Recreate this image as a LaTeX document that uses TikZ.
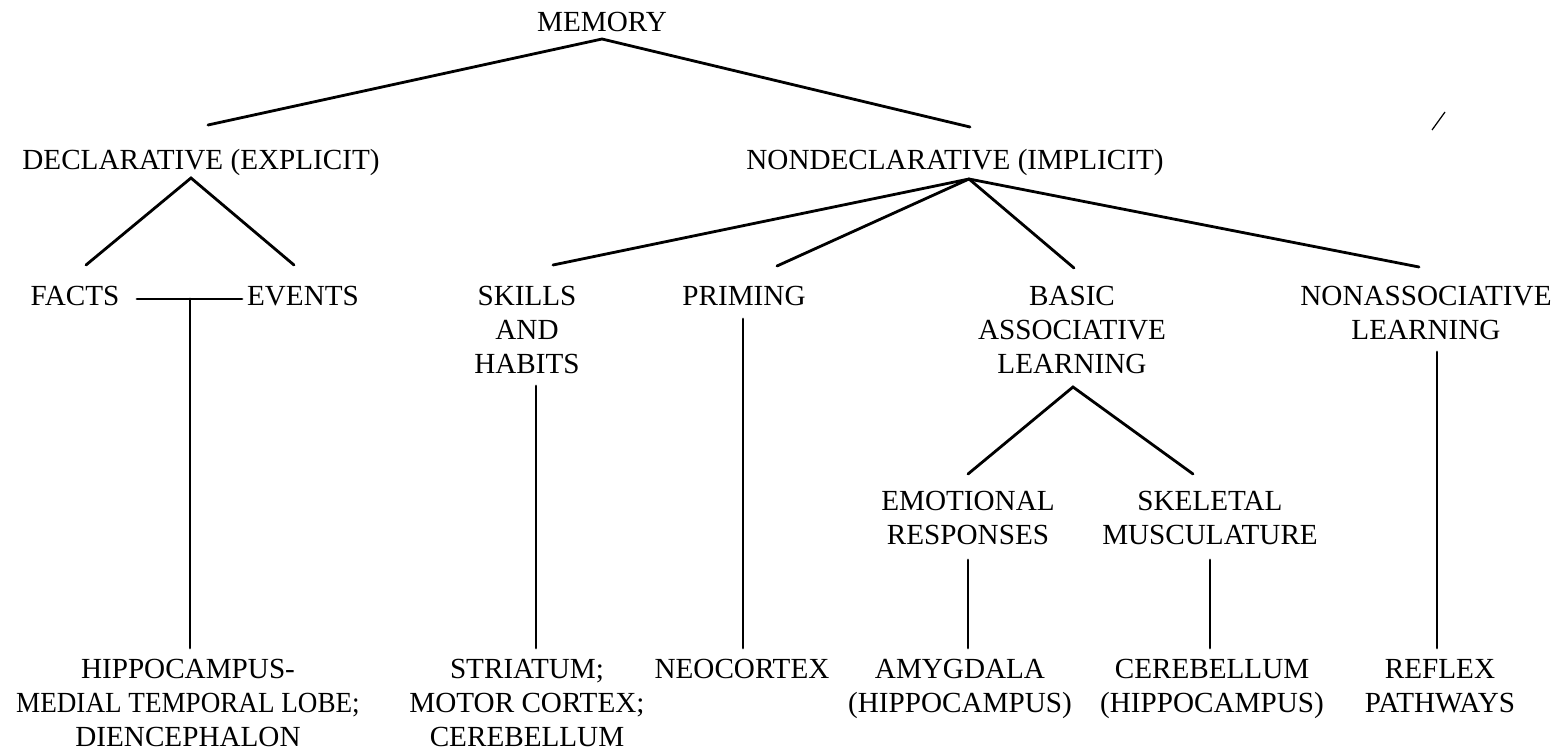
\documentclass[tikz,border=0pt]{standalone}
\usepackage{fontspec}
\setmainfont{Liberation Serif}
\begin{document}
\begin{tikzpicture}[x=0.02cm,y=-0.02cm,
  lbl/.style={inner sep=0pt, anchor=base, align=center, font=\fontsize{16.6}{19.3}\selectfont},
  conn/.style={line width=1.6pt, line cap=round}]
\useasboundingbox (0,0) rectangle (1562,750);
% labels (anchor = baseline of the last line)
\node[lbl] (memory) at (602,32) {MEMORY};
\node[lbl] (decl) at (201,170) {DECLARATIVE (EXPLICIT)};
\node[lbl] (nondecl) at (955,170) {NONDECLARATIVE (IMPLICIT)};
\node[lbl] (facts) at (75,305) {FACTS};
\node[lbl] (events) at (303,305) {EVENTS};
\node[lbl] (skills) at (527,373) {SKILLS\\AND\\HABITS};
\node[lbl] (priming) at (744,305) {PRIMING};
\node[lbl] (basic) at (1072,373) {BASIC\\ASSOCIATIVE\\LEARNING};
\node[lbl] (nonassoc) at (1426,339) {NONASSOCIATIVE\\LEARNING};
\node[lbl] (emot) at (968,544) {EMOTIONAL\\RESPONSES};
\node[lbl] (skel) at (1210,544) {SKELETAL\\MUSCULATURE};
\node[lbl] (hippo) at (188,746) {HIPPOCAMPUS-\\\scalebox{0.93}[1]{MEDIAL TEMPORAL LOBE;}\\DIENCEPHALON};
\node[lbl] (striatum) at (527,746) {STRIATUM;\\MOTOR CORTEX;\\CEREBELLUM};
\node[lbl] (neocortex) at (742,678) {NEOCORTEX};
\node[lbl] (amyg) at (960,712) {AMYGDALA\\(HIPPOCAMPUS)};
\node[lbl] (cereb) at (1212,712) {CEREBELLUM\\(HIPPOCAMPUS)};
\node[lbl] (reflex) at (1440,712) {REFLEX\\PATHWAYS};
% connector end points
\coordinate (memB) at (602,39);
\coordinate (declT) at (208,125);
\coordinate (nondeclT) at (970,127);
\coordinate (declB) at (191,178);
\coordinate (factsT) at (86,265);
\coordinate (eventsT) at (294,265);
\coordinate (feL) at (137,299);
\coordinate (feR) at (242,299);
\coordinate (feM) at (190,299);
\coordinate (hippoT) at (190,648);
\coordinate (ndB) at (969,179);
\coordinate (skillsT) at (553,265);
\coordinate (primingT) at (777,266);
\coordinate (basicT) at (1074,268);
\coordinate (nonassocT) at (1419,267);
\coordinate (skillsB) at (536,386);
\coordinate (striatumT) at (536,648);
\coordinate (primingB) at (743,319);
\coordinate (neoT) at (743,648);
\coordinate (basicB) at (1073,387);
\coordinate (emotT) at (968,474);
\coordinate (skelT) at (1193,474);
\coordinate (emotB) at (968,560);
\coordinate (amygT) at (968,648);
\coordinate (skelB) at (1210,560);
\coordinate (cerebT) at (1210,648);
\coordinate (nonassocB) at (1437,352);
\coordinate (reflexT) at (1437,648);
\coordinate (markA) at (1445,112);
\coordinate (markB) at (1432,130);
% connectors
\draw[conn] (declT) -- (memB) -- (nondeclT);
\draw[conn] (factsT) -- (declB) -- (eventsT);
\draw[conn] (feL) -- (feR);
\draw[conn] (feM) -- (hippoT);
\draw[conn] (ndB) -- (skillsT);
\draw[conn] (ndB) -- (primingT);
\draw[conn] (ndB) -- (basicT);
\draw[conn] (ndB) -- (nonassocT);
\draw[conn] (skillsB) -- (striatumT);
\draw[conn] (primingB) -- (neoT);
\draw[conn] (emotT) -- (basicB) -- (skelT);
\draw[conn] (emotB) -- (amygT);
\draw[conn] (skelB) -- (cerebT);
\draw[conn] (nonassocB) -- (reflexT);
\draw[line width=0.7pt] (markA) -- (markB);
\end{tikzpicture}
\end{document}
